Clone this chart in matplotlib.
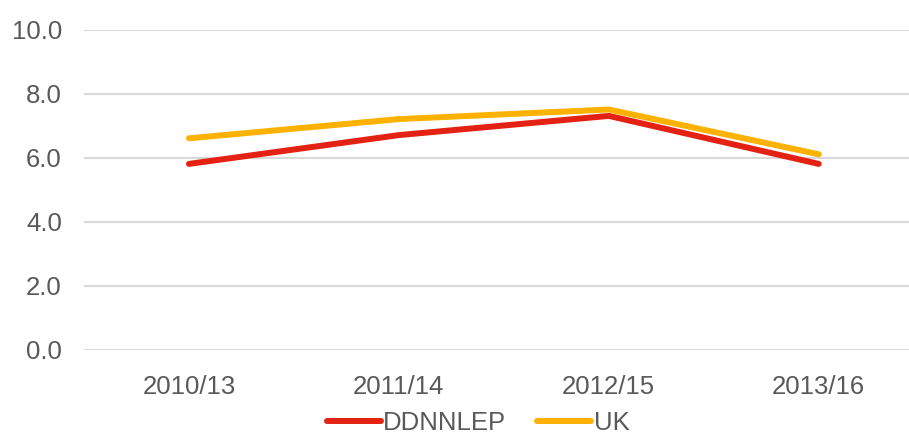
import matplotlib.pyplot as plt
from matplotlib.ticker import FormatStrFormatter

plt.rcParams['font.family'] = ['Liberation Sans', 'DejaVu Sans']

periods = ["2010/13", "2011/14", "2012/15", "2013/16"]
ddnnlep = [5.8, 6.7, 7.3, 5.8]
uk = [6.6, 7.2, 7.5, 6.1]

grey = '#595959'
fig = plt.figure(figsize=(9.09, 4.34), dpi=100)
ax = fig.add_axes([84/909, 1-349.5/434, 1-84/909, (349.5-29.5)/434])

x = range(len(periods))
ax.plot(x, ddnnlep, color='#e32213', lw=4.3, solid_capstyle='round', label='DDNNLEP', zorder=3)
ax.plot(x, uk, color='#fdb100', lw=4.3, solid_capstyle='round', label='UK', zorder=3)

ax.set_ylim(0, 10)
ax.set_yticks([0, 2, 4, 6, 8, 10])
ax.yaxis.set_major_formatter(FormatStrFormatter('%.1f'))
ax.set_xlim(-0.5, 3.43)
ax.set_xticks(list(x))
ax.set_xticklabels(periods)
ax.grid(axis='y', color='#d9d9d9', lw=1.5)
for s in ax.spines.values():
    s.set_visible(False)
ax.tick_params(length=0, labelsize=18.5, colors=grey)
ax.tick_params(axis='y', pad=16)
ax.tick_params(axis='x', pad=18)

fig.legend(loc='center', bbox_to_anchor=(478/909, 1-423/434), ncol=2, frameon=False,
           fontsize=18.5, labelcolor=grey, handlelength=2.1, handletextpad=0.1,
           columnspacing=1.2, borderpad=0)

fig.savefig('out.png', dpi=100)
